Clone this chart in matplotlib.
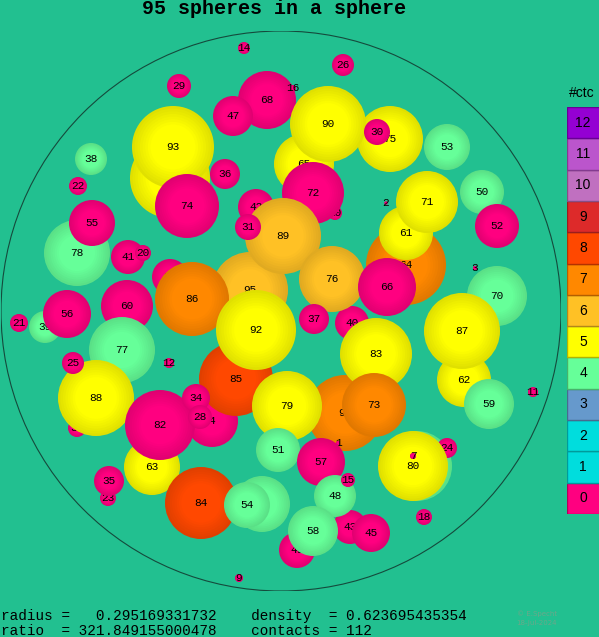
import numpy as np
import matplotlib
matplotlib.use('Agg')
import matplotlib.pyplot as plt
from matplotlib.patches import Circle, Rectangle
from matplotlib.colors import to_rgb

# spheres in pixel units, listed back to front
labels = ['81', '65', '10', '95', '27', '39', '64', '40', '91', '1',
          '4', '33', '23', '69', '67', '24', '49', '43', '2', '3',
          '14', '29', '26', '68', '16', '47', '93', '38', '22', '36',
          '74', '75', '90', '30', '53', '50', '72', '42', '89', '31',
          '78', '55', '41', '20', '86', '76', '61', '71', '52', '66',
          '85', '92', '56', '60', '21', '77', '12', '88', '25', '37',
          '70', '62', '87', '59', '11', '83', '73', '79', '63', '82',
          '34', '28', '35', '84', '54', '51', '57', '48', '15', '58',
          '45', '80', '7', '18', '9']
xs = [170, 304, 335, 250, 170, 45, 406, 352, 345, 338,
      212, 77, 108, 262, 417, 447, 297, 350, 386, 475,
      244, 179, 343, 267, 293, 233, 173, 91, 78, 225,
      187, 390, 328, 377, 447, 482, 313, 256, 283, 248,
      77, 92, 128, 143, 192, 332, 406, 427, 497, 387,
      236, 256, 67, 127, 19, 122, 169, 96, 73, 314,
      497, 464, 462, 489, 533, 376, 374, 287, 152, 160,
      196, 200, 109, 201, 247, 278, 321, 335, 348, 313,
      371, 413, 413, 424, 239]
ys = [178, 164, 213, 290, 277, 327, 265, 323, 413, 443,
      421, 428, 498, 504, 466, 448, 550, 527, 203, 268,
      48, 86, 65, 100, 88, 116, 147, 159, 186, 174,
      206, 139, 124, 132, 147, 192, 193, 207, 236, 227,
      253, 223, 257, 253, 299, 279, 233, 202, 226, 287,
      379, 330, 314, 306, 323, 350, 363, 398, 363, 319,
      296, 380, 331, 404, 392, 354, 405, 406, 467, 425,
      398, 417, 481, 503, 505, 450, 462, 496, 480, 531,
      533, 466, 456, 517, 578]
rs = [40, 30, 7, 38, 18, 16, 40, 17, 38, 2,
      26, 9, 8, 28, 35, 10, 18, 17, 1.5, 2,
      6, 12, 11, 29, 3, 20, 41, 16, 9, 15,
      32, 33, 38, 13, 23, 22, 31, 18, 38, 13,
      33, 23, 17, 8, 37, 33, 27, 31, 22, 29,
      37, 40, 24, 26, 9, 33, 5, 38, 11, 15,
      30, 27, 38, 25, 5, 36, 32, 35, 28, 35,
      14, 12, 15, 36, 23, 22, 24, 21, 7, 25,
      19, 35, 3, 8, 4]
ctc = [5, 5, 0, 6, 0, 4, 7, 0, 7, 0,
       0, 0, 0, 4, 4, 0, 0, 0, 0, 0,
       0, 0, 0, 0, 0, 0, 5, 4, 0, 0,
       0, 5, 5, 0, 4, 4, 0, 0, 6, 0,
       4, 0, 0, 0, 7, 6, 5, 5, 0, 0,
       8, 5, 0, 0, 0, 4, 0, 5, 0, 0,
       4, 5, 5, 4, 0, 5, 7, 5, 5, 0,
       0, 0, 0, 8, 4, 4, 0, 4, 0, 4,
       0, 5, 0, 0, 0]

ctc_levels = list(range(13))
ctc_colors = ['#ff0080', '#00dddd', '#00dddd', '#6699cc', '#66ff99',
              '#ffff00', '#ffc125', '#ff8800', '#ff4800', '#dd2a2a',
              '#c070c0', '#bb55cc', '#9400d3']

title = '95 spheres in a sphere'
line1 = 'radius =   0.295169331732    density  = 0.623695435354'
line2 = 'ratio  = 321.849155000478    contacts = 112'

bg = '#22c090'
W, H = 599, 637

fig = plt.figure(figsize=(W / 100, H / 100), dpi=100, facecolor=bg)

# container circle: centre (281, 311), radius 280 px
ax = fig.add_axes([1 / W, 46 / H, 560 / W, 560 / H])
ax.set_xlim(1, 561)
ax.set_ylim(591, 31)
ax.axis('off')
ax.add_patch(Circle((281, 311), 280, fill=False, ec='#154a3c', lw=0.8))


def shade(c, f):
    return tuple(min(1.0, v * f) for v in c)


# soft rim darkening so the discs look a bit like spheres
fracs = np.linspace(1.0, 0.55, 8)
facts = np.linspace(0.88, 1.0, 8)
for i in range(len(labels)):
    base = to_rgb(ctc_colors[ctc[i]])
    z = 2 + i * 0.01
    for f, k in zip(fracs, facts):
        ax.add_patch(Circle((xs[i], ys[i]), rs[i] * f, color=shade(base, k),
                            lw=0, zorder=z, clip_on=False))
    ax.text(xs[i], ys[i], labels[i], ha='center', va='center', fontsize=8,
            family='Liberation Mono', color='black', zorder=z + 0.005)

# legend boxes
lax = fig.add_axes([567 / W, (H - 514) / H, 40 / W, 407 / H])
lax.set_xlim(0, 40)
lax.set_ylim(0, 13)
lax.axis('off')
for lv in ctc_levels:
    c = to_rgb(ctc_colors[lv])
    lax.add_patch(Rectangle((0, lv), 40, 1, fc=c, ec=shade(c, 0.7), lw=1))
    lax.text(16, lv + 0.5, str(lv), ha='center', va='center', fontsize=10,
             family='Liberation Sans', color='black')
fig.text(582 / W, 1 - 93 / H, '#ctc', ha='center', va='center', fontsize=10,
         family='Liberation Sans')

fig.text(274 / W, 1 - 8 / H, title, ha='center', va='center', fontsize=14.4,
         family='Liberation Mono', weight='bold')
fig.text(1 / W, 1 - 616 / H, line1, ha='left', va='center', fontsize=10.4,
         family='Liberation Mono')
fig.text(1 / W, 1 - 631 / H, line2, ha='left', va='center', fontsize=10.4,
         family='Liberation Mono')
fig.text(537 / W, 1 - 614 / H, '\u00a9 E.Specht', ha='center', va='center',
         fontsize=5, color='#6aa88a')
fig.text(536 / W, 1 - 623 / H, '18-Jul-2024', ha='center', va='center',
         fontsize=5, color='#6aa88a')

fig.savefig('out.png', dpi=100, facecolor=bg)
